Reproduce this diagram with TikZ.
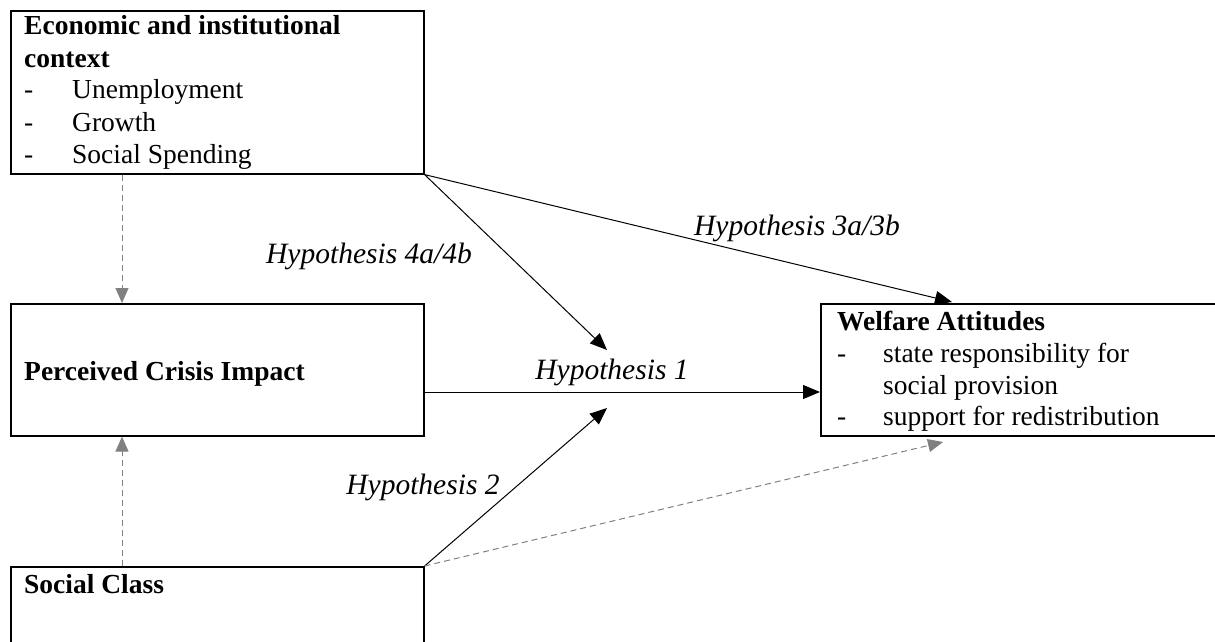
\documentclass[tikz,border=0pt]{standalone}
\usepackage{fontspec}
\setmainfont{Liberation Serif}
\usetikzlibrary{arrows.meta}
\begin{document}
\begin{tikzpicture}[x=1pt,y=-1pt,
  box/.style={draw, line width=1.6pt, rectangle, inner sep=0pt, anchor=north west},
  txt/.style={inner sep=0pt, anchor=base west, font=\fontsize{27.5}{31.5}\selectfont},
  bld/.style={txt, font=\fontsize{27.5}{31.5}\selectfont\bfseries},
  hyp/.style={inner sep=0pt, anchor=base, font=\fontsize{29.5}{33}\selectfont\itshape},
  solidarrow/.style={line width=1pt, -{Triangle[length=17pt,width=14pt]}},
  greyarrow/.style={line width=1pt, draw=gray, dash pattern=on 6pt off 4pt, -{Triangle[length=15pt,width=13pt,fill=gray]}}
]
\useasboundingbox (0,0) rectangle (1215,642);
\clip (0,0) rectangle (1215,642);

% boxes
\node[box, minimum width=413pt, minimum height=163pt] (econ) at (10,10) {};
\node[box, minimum width=413pt, minimum height=132pt] (perc) at (10,303) {};
\node[box, minimum width=413pt, minimum height=100pt] (social) at (10,566) {};
\node[box, minimum width=412pt, minimum height=132pt] (welf) at (820,303) {};

% box texts
\node[bld] (e1) at (24,35) {Economic and institutional};
\node[bld] (e2) at (24,67) {context};
\node[txt] (e3) at (24,99) {\makebox[48pt][l]{-}Unemployment};
\node[txt] (e4) at (24,131) {\makebox[48pt][l]{-}Growth};
\node[txt] (e5) at (24,163) {\makebox[48pt][l]{-}Social Spending};

\node[bld] (p1) at (24,380) {Perceived Crisis Impact};
\node[bld] (s1) at (24,593) {Social Class};

\node[bld] (w1) at (837,330) {Welfare Attitudes};
\node[txt] (w2) at (837,362) {\makebox[46pt][l]{-}state responsibility for};
\node[txt] (w3) at (837,394) {\makebox[46pt][l]{}social provision};
\node[txt] (w4) at (837,425) {\makebox[46pt][l]{-}support for redistribution};

% hypothesis labels
\node[hyp] (h3) at (797,235) {Hypothesis 3a/3b};
\node[hyp] (h4) at (369,263) {Hypothesis 4a/4b};
\node[hyp] (h1) at (612,379) {Hypothesis 1};
\node[hyp] (h2) at (423,494) {Hypothesis 2};

% free ends
\coordinate (t4) at (607,350);
\coordinate (t2) at (607,408);
\coordinate (t3) at (952,302);
\coordinate (tg) at (943,442);
\coordinate (cx) at (122,0);
\coordinate (y1) at (0,392);

% connectors
\draw[solidarrow] (econ.south east) -- (t4);
\draw[solidarrow] (econ.south east) -- (t3);
\draw[solidarrow] (social.north east) -- (t2);
\draw[solidarrow] (perc.east |- y1) -- (welf.west |- y1);
\draw[greyarrow] (cx |- econ.south) -- (cx |- perc.north);
\draw[greyarrow] (cx |- social.north) -- (cx |- perc.south);
\draw[greyarrow] (social.north east) -- (tg);
\end{tikzpicture}
\end{document}
